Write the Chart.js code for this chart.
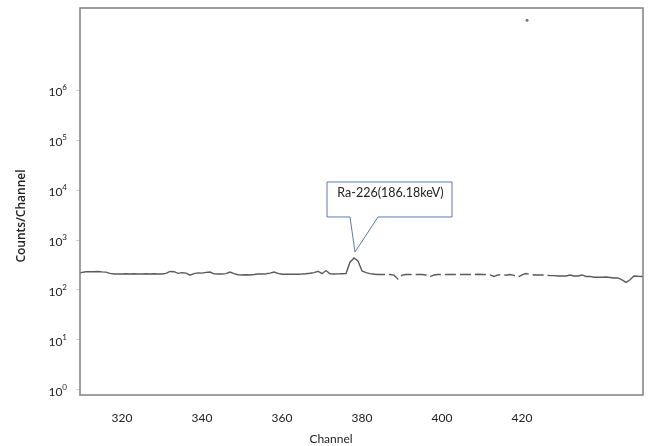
<!DOCTYPE html>
<html>
<head>
<meta charset="utf-8">
<script src="https://cdn.jsdelivr.net/npm/chart.js@4.4.1/dist/chart.umd.min.js"></script>
<style>
html,body{margin:0;padding:0;background:#fff}
#wrap{width:651px;height:446px}
</style>
</head>
<body>
<div id="wrap"><canvas id="chart" width="651" height="446"></canvas></div>
<script>
// spectrum data, one value per channel
const channels=[309,310,311,312,313,314,315,316,317,318,319,320,321,322,323,324,325,326,327,328,329,
  330,331,332,333,334,335,336,337,338,339,340,341,342,343,344,345,346,347,348,349,
  350,351,352,353,354,355,356,357,358,359,360,361,362,363,364,365,366,367,368,369,
  370,371,372,373,374,375,376,377,378,379,380,381,382,383,384,385,386,387,388,389,
  390,391,392,393,394,395,396,397,398,399,400,401,402,403,404,405,406,407,408,409,
  410,411,412,413,414,415,416,417,418,419,420,421,422,423,424,425,426,427,428,429,
  430,431,432,433,434,435,436,437,438,439,440,441,442,443,444,445,446,447,448,449,
  450,451];
const counts=[215,225,232,232,232,234,230,228,215,209,209,209,212,209,211,209,209,211,209,211,209,
  209,215,235,232,215,222,218,198,212,220,218,225,229,210,209,209,212,229,212,202,
  200,202,200,204,209,209,211,218,229,215,207,207,207,207,207,209,212,216,222,237,
  212,245,210,209,210,212,214,360,437,380,240,222,212,206,204,204,204,204,198,165,
  198,204,204,204,204,204,200,185,200,204,204,204,204,204,204,204,204,204,204,206,
  204,204,200,186,200,204,198,204,196,180,200,214,204,200,200,200,200,194,194,191,
  191,191,200,191,191,200,186,187,180,180,180,182,178,174,174,160,142,160,191,188,
  186,186];
// stray dot near the top of the frame
const strayChannel=[421.25];
const strayCounts=[2.5e7];

const xTicks=[320,340,360,380,400,420];
const yTicks=[1,10,100,1000,10000,100000,1000000];
const xTitle='Channel';
const yTitle='Counts/Channel';
const peakLabel='Ra-226(186.18keV)';

const points=channels.map((c,i)=>({x:c,y:counts[i]}));
const stray=strayChannel.map((c,i)=>({x:c,y:strayCounts[i]}));

const FONT='Lato, "Open Sans", sans-serif';

const decor={
  id:'decor',
  afterDraw(chart){
    const {ctx,chartArea:a,scales}=chart;
    const xs=scales.x, ys=scales.y;
    ctx.save();
    // frame
    ctx.strokeStyle='#808080';
    ctx.lineWidth=1.5;
    ctx.strokeRect(a.left,a.top,a.right-a.left,a.bottom-a.top);
    // y tick labels 10^n
    ctx.fillStyle='#222';
    ctx.textBaseline='middle';
    yTicks.forEach(v=>{
      const y=ys.getPixelForValue(v)+2;
      const e=String(Math.round(Math.log10(v)));
      ctx.font='8px '+FONT;
      const ew=ctx.measureText(e).width;
      ctx.textAlign='left';
      ctx.fillText(e,67-ew,y-5);
      ctx.font='12px '+FONT;
      ctx.textAlign='right';
      ctx.fillText('10',67-ew,y);
    });
    // axis titles
    ctx.font='600 12px "Open Sans", sans-serif';
    ctx.textAlign='center';
    ctx.save();
    ctx.translate(22,216);
    ctx.rotate(-Math.PI/2);
    ctx.fillText(yTitle,0,0);
    ctx.restore();
    ctx.font='12px '+FONT;
    ctx.textBaseline='alphabetic';
    ctx.fillText(xTitle,331,443);
    // callout at the peak
    let pk=0;
    counts.forEach((v,i)=>{if(v!==null&&v>counts[pk])pk=i;});
    const tx=xs.getPixelForValue(channels[pk])+1;
    const ty=ys.getPixelForValue(counts[pk])-6;
    const L=tx-28,R=tx+97,T=ty-70,B=ty-35;
    ctx.beginPath();
    ctx.moveTo(L,T);ctx.lineTo(R,T);ctx.lineTo(R,B);
    ctx.lineTo(tx+23,B);ctx.lineTo(tx,ty);ctx.lineTo(tx-5,B);
    ctx.lineTo(L,B);ctx.closePath();
    ctx.fillStyle='#fff';
    ctx.fill();
    ctx.strokeStyle='#5b7bb0';
    ctx.lineWidth=1;
    ctx.stroke();
    ctx.fillStyle='#222';
    ctx.font='12.5px '+FONT;
    ctx.textAlign='center';
    ctx.textBaseline='middle';
    ctx.fillText(peakLabel,(L+R)/2+1,T+11);
    ctx.restore();
  }
};

// the scanned trace looks broken up to the right of the peak
const brokenFrom=383, brokenTo=428;

new Chart(document.getElementById('chart'),{
  type:'line',
  data:{datasets:[
    {data:points,borderColor:'#5a5a5a',borderWidth:1.4,pointRadius:0,tension:0,
      segment:{borderDash:c=>(c.p0.parsed.x>=brokenFrom&&c.p1.parsed.x<=brokenTo)?[11,4]:undefined}},
    {type:'scatter',data:stray,pointRadius:1.5,pointBackgroundColor:'#777',pointBorderWidth:0}
  ]},
  options:{
    responsive:false,
    animation:false,
    layout:{padding:{top:8,right:8,left:0,bottom:0}},
    plugins:{legend:{display:false},tooltip:{enabled:false}},
    scales:{
      x:{
        type:'linear',min:309.5,max:450.25,
        afterBuildTicks:s=>{s.ticks=xTicks.map(v=>({value:v}));},
        afterFit:s=>{s.height=51;},
        grid:{drawOnChartArea:false,drawTicks:false},
        border:{display:false},
        ticks:{padding:16,color:'#222',font:{family:FONT,size:12},callback:v=>String(v)}
      },
      y:{
        type:'logarithmic',min:0.794,max:4.37e7,
        afterBuildTicks:s=>{s.ticks=yTicks.map(v=>({value:v}));},
        afterFit:s=>{s.width=80;},
        grid:{drawOnChartArea:false,drawTicks:true,tickLength:4,color:'#cfcfcf'},
        border:{display:false},
        ticks:{display:false}
      }
    }
  },
  plugins:[decor]
});
</script>
</body>
</html>
